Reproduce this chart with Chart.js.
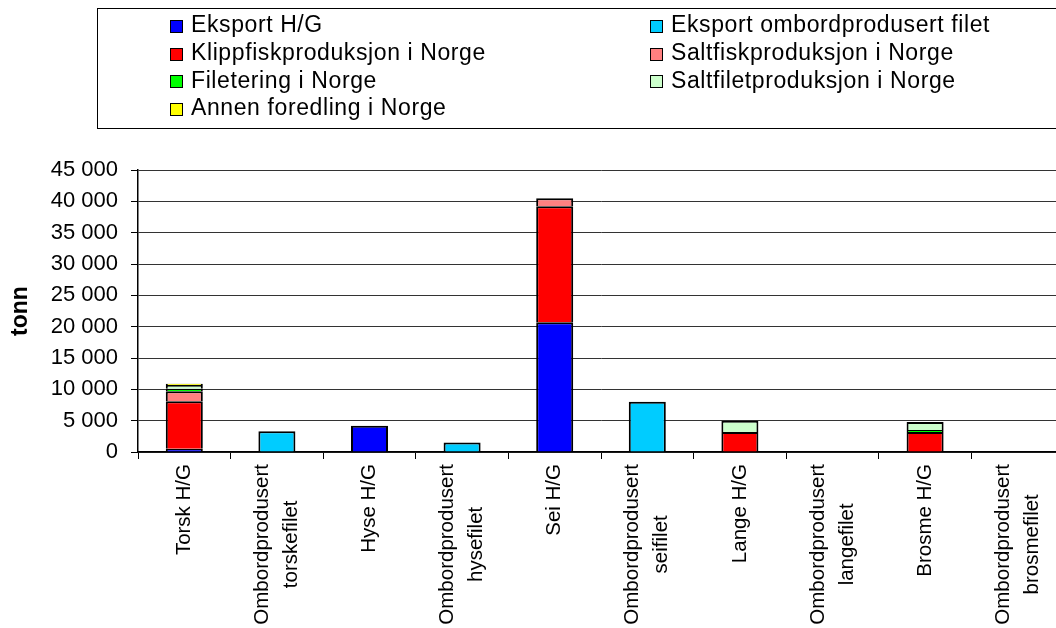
<!DOCTYPE html>
<html lang="no">
<head>
  <meta charset="UTF-8">
  <title>Eksport og produksjon</title>
  <script src="https://cdn.jsdelivr.net/npm/chart.js"></script>
  <style>
    body {
      margin: 0;
      overflow: hidden;
      background: #fff;
      font-family: "Liberation Sans", Arial, sans-serif;
    }
    #wrap {
      position: relative;
      width: 1064px;
      height: 628px;
    }
    #legend {
      position: absolute;
      left: 97px;
      top: 8px;
      width: 1000px;
      height: 121px;
      border: 1px solid #000;
      box-sizing: border-box;
      display: grid;
      grid-template-columns: 480px 480px;
      grid-auto-rows: 27.7px;
      padding: 2px 0 0 72px;
      font-size: 23px;
      letter-spacing: 0.6px;
    }
    .item {
      display: flex;
      align-items: center;
      white-space: nowrap;
    }
    .swatch {
      width: 11px;
      height: 11px;
      border: 1.5px solid #000;
      margin-right: 8px;
      margin-top: 3px;
    }
  </style>
</head>
<body>
  <div id="wrap">
    <canvas id="chart"></canvas>
    <div id="legend"></div>
  </div>

  <script>
    // kategorier (x-akse), linjeskift som egne linjer
    const categories = [
      ["Torsk H/G"],
      ["Ombordprodusert", "torskefilet"],
      ["Hyse H/G"],
      ["Ombordprodusert", "hysefilet"],
      ["Sei H/G"],
      ["Ombordprodusert", "seifilet"],
      ["Lange H/G"],
      ["Ombordprodusert", "langefilet"],
      ["Brosme H/G"],
      ["Ombordprodusert", "brosmefilet"]
    ];

    // tonn per serie (null = ingen verdi)
    const eksportHG        = [500, null, 4200, null, 20700, null, null, null, null, null];
    const eksportOmbord    = [null, 3300, null, 1500, null, 8000, null, null, null, null];
    const klippfisk        = [7600, null, null, null, 18500, null, 3200, null, 3200, null];
    const saltfisk         = [1600, null, null, null, 1300, null, null, null, null, null];
    const filetering       = [400, null, null, null, null, null, null, null, 300, null];
    const saltfilet        = [600, null, null, null, null, null, 1800, null, 1300, null];
    const annenForedling   = [200, null, null, null, null, null, null, null, null, null];

    const yTicks = [0, 5000, 10000, 15000, 20000, 25000, 30000, 35000, 40000, 45000];

    const series = [
      { label: "Eksport H/G", data: eksportHG, color: "#0000FF" },
      { label: "Eksport ombordprodusert filet", data: eksportOmbord, color: "#00CCFF" },
      { label: "Klippfiskproduksjon i Norge", data: klippfisk, color: "#FF0000" },
      { label: "Saltfiskproduksjon i Norge", data: saltfisk, color: "#FF8080" },
      { label: "Filetering i Norge", data: filetering, color: "#00FF00" },
      { label: "Saltfiletproduksjon i Norge", data: saltfilet, color: "#CCFFCC" },
      { label: "Annen foredling i Norge", data: annenForedling, color: "#FFFF00" }
    ];

    const labelFont = '20.5px "Liberation Sans", Arial, sans-serif';
    const labelLineHeight = 29;
    const labelGap = 12;

    // tegner x-etikettene rotert, med sentrerte linjer
    const xLabels = {
      id: "xLabels",
      afterDraw(chart) {
        const scale = chart.scales.x;
        const ctx = chart.ctx;
        ctx.save();
        ctx.font = labelFont;
        ctx.fillStyle = "#000";
        ctx.textAlign = "center";
        ctx.textBaseline = "middle";
        categories.forEach((lines, i) => {
          const x = scale.getPixelForTick(i);
          const w = Math.max(...lines.map(l => ctx.measureText(l).width));
          ctx.save();
          ctx.translate(x, scale.top + labelGap + w / 2);
          ctx.rotate(-Math.PI / 2);
          lines.forEach((line, j) => {
            ctx.fillText(line, 0, (j - (lines.length - 1) / 2) * labelLineHeight);
          });
          ctx.restore();
        });
        ctx.restore();
      }
    };

    const ctx = document.getElementById("chart").getContext("2d");
    const chart = new Chart(ctx, {
      type: "bar",
      data: {
        labels: categories.map(c => c.join(" ")),
        datasets: series.map(s => ({
          label: s.label,
          data: s.data,
          backgroundColor: s.color,
          borderColor: "#000",
          borderWidth: 2,
          barPercentage: 0.4,
          categoryPercentage: 1.0
        }))
      },
      options: {
        responsive: true,
        maintainAspectRatio: false,
        animation: false,
        layout: {
          padding: { top: 170, right: 0, bottom: 169, left: 0 }
        },
        plugins: {
          legend: { display: false },
          tooltip: { enabled: false }
        },
        scales: {
          x: {
            stacked: true,
            offset: true,
            ticks: { display: false },
            grid: {
              offset: true,
              drawOnChartArea: false,
              drawTicks: true,
              tickLength: 7,
              tickColor: "#000"
            },
            border: { color: "#000", width: 1.5 }
          },
          y: {
            stacked: true,
            min: 0,
            max: 45000,
            afterBuildTicks: scale => {
              scale.ticks = yTicks.map(v => ({ value: v }));
            },
            afterFit: scale => {
              scale.width = 138;
            },
            ticks: {
              color: "#000",
              padding: 13,
              font: { family: '"Liberation Sans", Arial, sans-serif', size: 22 },
              callback: v => String(v).replace(/\B(?=(\d{3})+(?!\d))/g, " ")
            },
            grid: {
              color: "#333",
              tickColor: "#000",
              tickLength: 7
            },
            border: { color: "#000", width: 1.5 },
            title: {
              display: true,
              text: "tonn",
              color: "#000",
              font: { family: '"Liberation Sans", Arial, sans-serif', size: 23, weight: "bold" },
              padding: { top: 7, bottom: 0 }
            }
          }
        }
      },
      plugins: [xLabels]
    });

    // HTML-forklaring i to kolonner
    const legend = document.getElementById("legend");
    series.forEach(s => {
      const item = document.createElement("div");
      item.className = "item";
      const sw = document.createElement("span");
      sw.className = "swatch";
      sw.style.background = s.color;
      item.appendChild(sw);
      item.appendChild(document.createTextNode(s.label));
      legend.appendChild(item);
    });
  </script>
</body>
</html>
